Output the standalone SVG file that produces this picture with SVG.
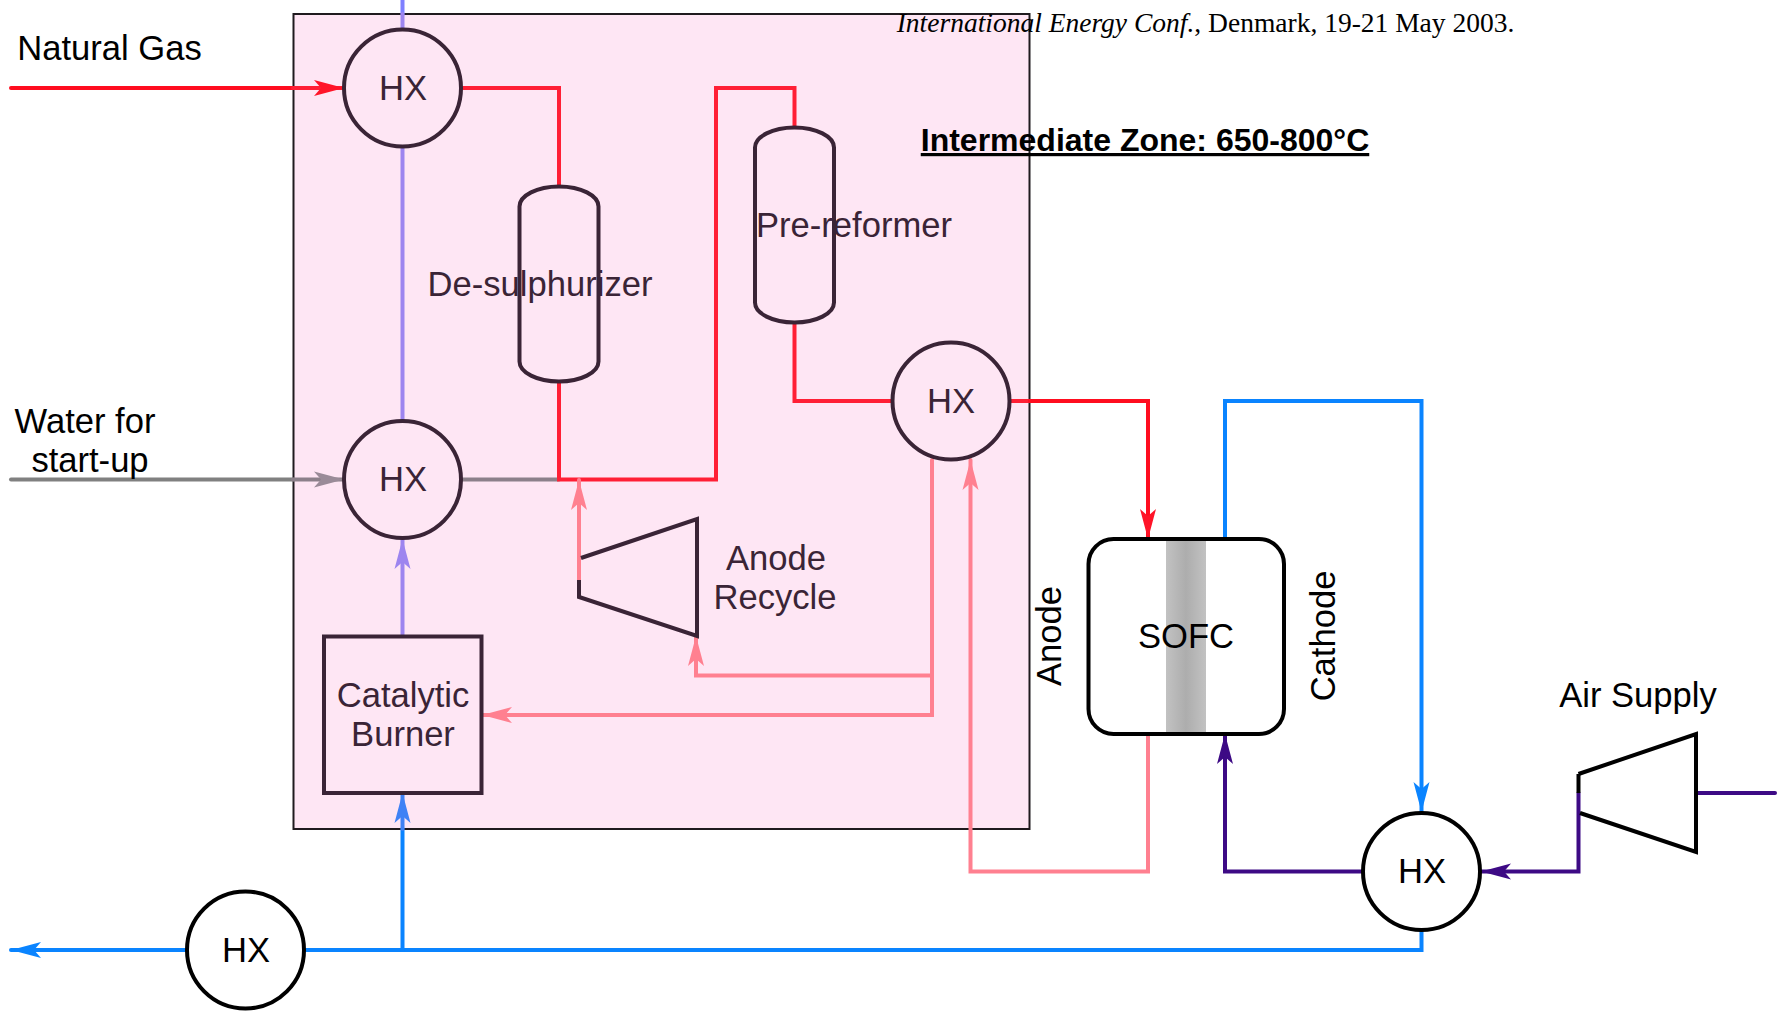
<svg xmlns="http://www.w3.org/2000/svg" width="1782" height="1013" viewBox="0 0 1782 1013">
<style>
text{font-family:"Liberation Sans",Arial,sans-serif;font-size:34.6px;text-anchor:middle;fill:#000}
.in text{fill:#3a2436}
.sh{stroke-width:4;stroke-linejoin:miter;fill:none}
.in .sh{stroke:#3a2436}
.out .sh{stroke:#000}
.c{fill:none;stroke-width:4;stroke-linejoin:miter;stroke-linecap:round}
.red{stroke:#ff1f35}.red2{stroke:#ff0d1f}.pink{stroke:#ff8090}.lav{stroke:#9d85ef}.lav2{stroke:#7f80ff}.gr{stroke:#8c808a}.gr2{stroke:#808080}.bl{stroke:#0a84ff}.bl2{stroke:#3f82f5}.pu{stroke:#3d0a85}
</style>
<defs>
<linearGradient id="band" x1="0" x2="1" y1="0" y2="0"><stop offset="0" stop-color="#c2c2c2"/><stop offset=".5" stop-color="#adadad"/><stop offset="1" stop-color="#c2c2c2"/></linearGradient>
<marker id="aRed" markerUnits="userSpaceOnUse" markerWidth="32" markerHeight="24" refX="30" refY="12" orient="auto"><path d="M0 4L30 12L0 20L7 12Z" fill="#ff1428"/></marker>
<marker id="aPink" markerUnits="userSpaceOnUse" markerWidth="32" markerHeight="24" refX="30" refY="12" orient="auto"><path d="M0 4L30 12L0 20L7 12Z" fill="#ff8090"/></marker>
<marker id="aLav" markerUnits="userSpaceOnUse" markerWidth="32" markerHeight="24" refX="30" refY="12" orient="auto"><path d="M0 4L30 12L0 20L7 12Z" fill="#9d85ef"/></marker>
<marker id="aGr" markerUnits="userSpaceOnUse" markerWidth="32" markerHeight="24" refX="30" refY="12" orient="auto"><path d="M0 4L30 12L0 20L7 12Z" fill="#9a8b98"/></marker>
<marker id="aBl" markerUnits="userSpaceOnUse" markerWidth="32" markerHeight="24" refX="30" refY="12" orient="auto"><path d="M0 4L30 12L0 20L7 12Z" fill="#0a84ff"/></marker>
<marker id="aBl2" markerUnits="userSpaceOnUse" markerWidth="32" markerHeight="24" refX="30" refY="12" orient="auto"><path d="M0 4L30 12L0 20L7 12Z" fill="#3f82f5"/></marker>
<marker id="aPu" markerUnits="userSpaceOnUse" markerWidth="32" markerHeight="24" refX="30" refY="12" orient="auto"><path d="M0 4L30 12L0 20L7 12Z" fill="#3d0a85"/></marker>
</defs>
<rect width="1782" height="1013" fill="#fff"/>
<g id="zone"><rect x="293.500" y="14" width="736" height="815" fill="#fee6f4" stroke="#1f1a1e" stroke-width="2"/></g>
<g id="header">
<text x="1205.500" y="32" style="font-family:'Liberation Serif',serif;font-size:27.500px"><tspan font-style="italic">International Energy Conf.</tspan>, Denmark, 19-21 May 2003.</text>
</g>
<g id="connectors">
<path class="c red2" d="M11 88H293"/>
<path class="c red" d="M293 88H344" marker-end="url(#aRed)"/>
<path class="c gr2" d="M11 479.500H293"/>
<path class="c gr" d="M293 479.500H344" marker-end="url(#aGr)"/>
<path class="c lav2" d="M402.500 0V14"/>
<path class="c lav" d="M402.500 14V29M402.500 147V421"/>
<path class="c lav" d="M402.500 636V539" marker-end="url(#aLav)"/>
<path class="c red" d="M463 88H559V186"/>
<path class="c gr" d="M462 479.500H559"/>
<path class="c red" d="M559 382V479.500H716V88H794.500V127"/>
<path class="c red" d="M794.500 323V401H892"/>
<path class="c red" d="M1011 401H1030"/>
<path class="c red2" d="M1030 401H1148V539" marker-end="url(#aRed)"/>
<path class="c pink" d="M579 580V480" marker-end="url(#aPink)"/>
<path class="c pink" d="M932 460V715H482" marker-end="url(#aPink)"/>
<path class="c pink" d="M932 675.500H696V636" marker-end="url(#aPink)"/>
<path class="c pink" d="M1148 734V871.500H970.500V460" marker-end="url(#aPink)"/>
<path class="c bl" d="M1225 539V401H1421.500V812" marker-end="url(#aBl)"/>
<path class="c pu" d="M1362 871.500H1225V734" marker-end="url(#aPu)"/>
<path class="c pu" d="M1578.500 793V871.500H1481" marker-end="url(#aPu)"/>
<path class="c pu" d="M1696 793H1775"/>
<path class="c bl" d="M306 950H1421.500V931"/>
<path class="c bl" d="M402.500 950V829"/>
<path class="c bl2" d="M402.500 829V793" marker-end="url(#aBl2)"/>
<path class="c bl" d="M186 950H11" marker-end="url(#aBl)"/>
</g>
<g id="hx1" class="in"><circle class="sh" cx="402.500" cy="88" r="58.500"/><text x="403" y="100">HX</text></g>
<g id="hx2" class="in"><circle class="sh" cx="402.500" cy="479.500" r="58.500"/><text x="403" y="491">HX</text></g>
<g id="hx3" class="in"><circle class="sh" cx="951" cy="401" r="58.500"/><text x="951" y="413">HX</text></g>
<g id="hx4" class="out"><circle class="sh" cx="245.500" cy="950" r="58.500"/><text x="246" y="962">HX</text></g>
<g id="hx5" class="out"><circle class="sh" cx="1421.500" cy="871.500" r="58.500"/><text x="1422" y="883">HX</text></g>
<g id="desulphurizer" class="in"><rect class="sh" x="519.500" y="186.500" width="79" height="195" rx="39.500" ry="20"/><text x="540" y="296">De-sulphurizer</text></g>
<g id="prereformer" class="in"><rect class="sh" x="755" y="127.500" width="79" height="195" rx="39.500" ry="20"/><text x="854" y="237">Pre-reformer</text></g>
<g id="anode-recycle" class="in"><path class="sh" d="M581 558L697 519V636L579 597V580"/><text x="776" y="570">Anode</text><text x="775" y="609">Recycle</text></g>
<g id="burner" class="in"><rect class="sh" x="324" y="636.500" width="157.500" height="156.500"/><text x="403" y="707">Catalytic</text><text x="403" y="746">Burner</text></g>
<g id="sofc" class="out"><rect x="1166" y="541" width="40" height="191" fill="url(#band)"/><rect class="sh" x="1088.500" y="539" width="195.500" height="195" rx="25"/><text x="1186" y="648">SOFC</text></g>
<g id="air-compressor" class="out"><path class="sh" d="M1578.500 774L1696 734V852L1580 813"/><path class="sh" d="M1578.500 774V793"/></g>
<g id="labels">
<text x="109.500" y="60">Natural Gas</text>
<text x="85" y="433">Water for</text>
<text x="90" y="472">start-up</text>
<text x="1638" y="707">Air Supply</text>
<text transform="translate(1061 636) rotate(-90)">Anode</text>
<text transform="translate(1335 636) rotate(-90)">Cathode</text>
<text x="1145" y="151" style="font-weight:bold;font-size:32px;text-decoration:underline">Intermediate Zone: 650-800°C</text>
</g>
</svg>
